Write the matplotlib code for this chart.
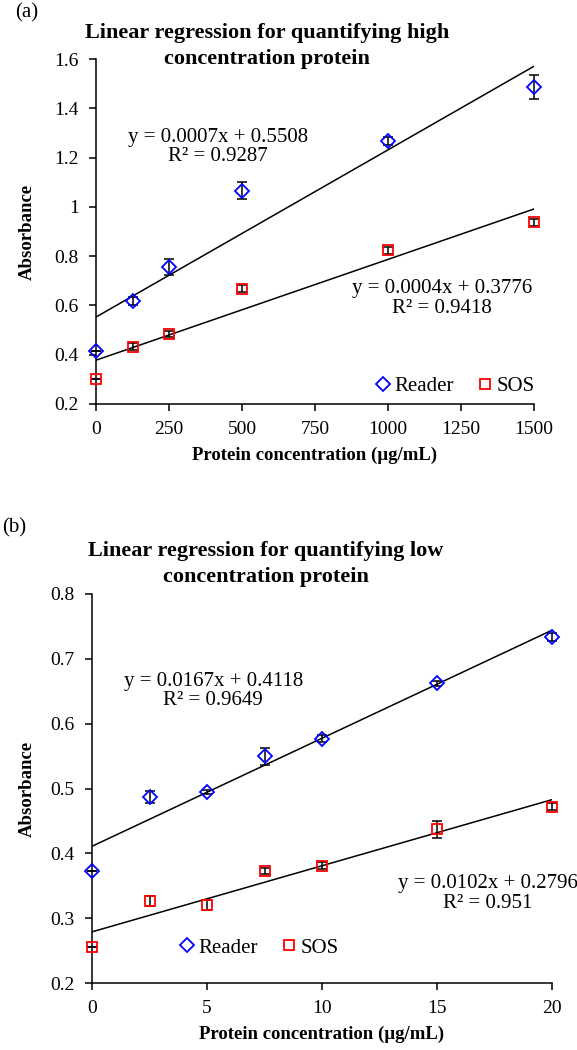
import numpy as np
import matplotlib
matplotlib.use("Agg")
import matplotlib.pyplot as plt
from matplotlib.ticker import FuncFormatter

plt.rcParams["font.family"] = ["Liberation Serif", "DejaVu Serif"]

# (a) high concentration
high_conc = [0, 125, 250, 500, 1000, 1500]
high_reader = [0.415, 0.619, 0.755, 1.066, 1.267, 1.485]
high_reader_err = [0.0, 0.017, 0.032, 0.033, 0.015, 0.049]
high_sos = [0.301, 0.433, 0.484, 0.668, 0.824, 0.937]
high_sos_err = [0.0, 0.013, 0.013, 0.015, 0.015, 0.013]
high_eq = ["y = 0.0007x + 0.5508\nR² = 0.9287", "y = 0.0004x + 0.3776\nR² = 0.9418"]

# (b) low concentration
low_conc = [0, 2.5, 5, 7.5, 10, 15, 20]
low_reader = [0.372, 0.487, 0.494, 0.550, 0.577, 0.662, 0.734]
low_reader_err = [0.0, 0.0098, 0.003, 0.013, 0.006, 0.004, 0.006]
low_sos = [0.255, 0.326, 0.320, 0.373, 0.381, 0.437, 0.472]
low_sos_err = [0.0, 0.008, 0.008, 0.005, 0.005, 0.0136, 0.005]
low_eq = ["y = 0.0167x + 0.4118\nR² = 0.9649", "y = 0.0102x + 0.2796\nR² = 0.951"]

BLUE = "#0000ff"
RED = "#ff0000"

fig = plt.figure(figsize=(5.77, 10.5), dpi=100)


def panel(ax, x, reader, reader_err, sos, sos_err, eqs, eq_pos, leg_pos,
          xlim, ylim, xticks, yticks, ylab_x, xlab_y):
    x = np.asarray(x, dtype=float)
    for y, err, marker, color, ms, label in [
        (reader, reader_err, "D", BLUE, 7.5, "Reader"),
        (sos, sos_err, "s", RED, 7.5, "SOS"),
    ]:
        ax.errorbar(x, y, yerr=err, fmt="none", ecolor="black", elinewidth=1.1,
                    capsize=3.5, capthick=1.1, clip_on=False, zorder=3)
        ax.plot(x, y, linestyle="none", marker=marker, ms=ms, mfc="none",
                mec=color, mew=1.3, clip_on=False, zorder=4, label=label)
        # linear trendline
        k, b = np.polyfit(x, y, 1)
        xs = np.array([0, x.max()])
        ax.plot(xs, k * xs + b, color="black", lw=1.1, zorder=2)

    for txt, (tx, ty) in zip(eqs, eq_pos):
        ax.text(tx, ty, txt, transform=ax.transAxes, ha="center", va="center",
                fontsize=15, multialignment="center", linespacing=1.05)

    ax.set_xlim(*xlim)
    ax.set_ylim(*ylim)
    ax.set_xticks(xticks)
    ax.set_yticks(yticks)
    ax.yaxis.set_major_formatter(FuncFormatter(lambda v, p: "%g" % round(v, 2)))
    ax.tick_params(direction="out", length=5, width=1.1, labelsize=14, pad=7.5)
    for s in ["top", "right"]:
        ax.spines[s].set_visible(False)
    for s in ["left", "bottom"]:
        ax.spines[s].set_linewidth(1.1)

    ax.set_xlabel("Protein concentration (µg/mL)", fontsize=13.5, fontweight="bold")
    ax.set_ylabel("Absorbance", fontsize=13.5, fontweight="bold")
    ax.yaxis.set_label_coords(ylab_x, 0.5)
    ax.xaxis.set_label_coords(0.5, xlab_y)

    ax.legend(loc="center", bbox_to_anchor=leg_pos, ncol=2, frameon=False,
              fontsize=15, handlelength=0.6, handletextpad=0.25,
              columnspacing=1.2, borderpad=0)


ax1 = fig.add_axes([96 / 577, 1 - 404 / 1050, 438 / 577, 345 / 1050])
panel(ax1, high_conc, high_reader, high_reader_err, high_sos, high_sos_err,
      high_eq, [(0.279, 0.745), (0.790, 0.306)], (0.822, 0.052),
      (0, 1500), (0.2, 1.6), [0, 250, 500, 750, 1000, 1250, 1500],
      np.arange(0.2, 1.61, 0.2), -0.137, -0.125)

ax2 = fig.add_axes([92 / 577, 1 - 983 / 1050, 460 / 577, 389 / 1050])
panel(ax2, low_conc, low_reader, low_reader_err, low_sos, low_sos_err,
      low_eq, [(0.2635, 0.751), (0.86, 0.23)], (0.365, 0.09),
      (0, 20), (0.2, 0.8), [0, 5, 10, 15, 20],
      np.arange(0.2, 0.81, 0.1), -0.122, -0.11)

fig.text(267 / 577, 1 - 46 / 1050,
         "Linear regression for quantifying high\nconcentration protein",
         ha="center", va="center", fontsize=16, fontweight="bold", linespacing=1.4)
fig.text(266 / 577, 1 - 564 / 1050,
         "Linear regression for quantifying low\nconcentration protein",
         ha="center", va="center", fontsize=16, fontweight="bold", linespacing=1.4)
fig.text(27 / 577, 1 - 13 / 1050, "(a)", ha="center", va="center", fontsize=15)
fig.text(14 / 577, 1 - 528 / 1050, "(b)", ha="center", va="center", fontsize=15)

fig.savefig("out.png", dpi=100)
